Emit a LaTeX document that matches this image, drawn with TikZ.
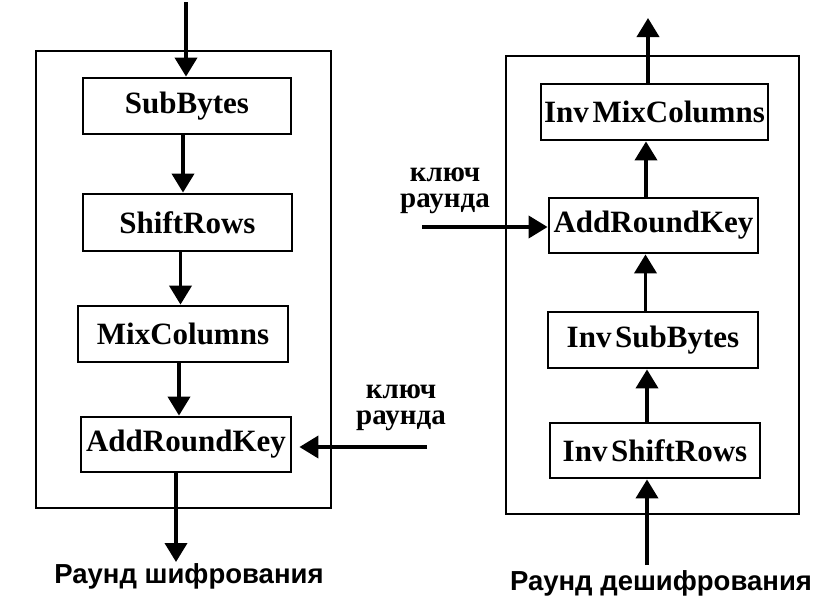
\documentclass[tikz,border=0pt]{standalone}
\usepackage{fontspec}
\setmainfont{Liberation Serif}
\setsansfont{Liberation Sans}
\usetikzlibrary{arrows.meta}
\begin{document}
\begin{tikzpicture}[x=1pt,y=-1pt,
  proc/.style={draw, line width=2.8pt, inner sep=0pt, font=\fontsize{31}{33}\selectfont\bfseries},
  frame/.style={draw, line width=2.8pt},
  flow/.style={line width=3.8pt, -{Triangle[width=22pt,length=19pt]}},
  keylbl/.style={align=center, inner sep=0pt, font=\fontsize{29}{26}\selectfont\bfseries},
  caption/.style={inner sep=0pt, font=\fontsize{27.5}{30}\selectfont\sffamily\bfseries}]
\useasboundingbox (0,0) rectangle (821,603);
% left: encryption round
\draw[frame] (36,51) rectangle (331,508);
\node[proc, minimum width=208pt, minimum height=56pt] (sb) at (187,106) {SubBytes};
\node[proc, minimum width=209pt, minimum height=57pt] (sr) at (187.5,222.5) {ShiftRows};
\node[proc, minimum width=210pt, minimum height=56pt] (mc) at (183,334) {MixColumns};
\node[proc, minimum width=210pt, minimum height=55pt] (ark) at (186,444.5) {AddRoundKey};
\coordinate (in1) at (186,2);
\coordinate (out1) at (176,562);
\coordinate (k1) at (427,447);
\draw[flow] (in1) -- (in1 |- sb.north);
\draw[flow] ([xshift=-4pt]sb.south) -- ([xshift=-4pt]sb.south |- sr.north);
\draw[flow] ([xshift=-7pt]sr.south) -- ([xshift=-7pt]sr.south |- mc.north);
\draw[flow] ([xshift=-4pt]mc.south) -- ([xshift=-4pt]mc.south |- ark.north);
\draw[flow] (ark.south -| out1) -- (out1);
\draw[flow, shorten >=7pt] (k1) -- (k1 -| ark.east);
\node[keylbl] (key1) at (401,408) {ключ\\раунда};
\node[caption] (cap1) at (189,576) {Раунд шифрования};
% right: decryption round
\draw[frame] (506,56) rectangle (799,514);
\node[proc, minimum width=227pt, minimum height=56pt] (imc) at (654.5,112) {Inv\hspace{0.12em}MixColumns};
\node[proc, minimum width=209pt, minimum height=55pt] (ark2) at (653.5,225.5) {AddRoundKey};
\node[proc, minimum width=210pt, minimum height=56pt] (isb) at (653,340) {Inv\hspace{0.12em}SubBytes};
\node[proc, minimum width=210pt, minimum height=55pt] (isr) at (655,450.5) {Inv\hspace{0.12em}ShiftRows};
\coordinate (in2) at (647,565);
\coordinate (out2) at (648,18);
\coordinate (k2) at (422,227);
\draw[flow] (in2) -- (in2 |- isr.south);
\draw[flow] (isr.north -| in2) -- (isb.south -| in2);
\draw[flow] ([xshift=-7.5pt]isb.north) -- ([xshift=-7.5pt]isb.north |- ark2.south);
\draw[flow] ([xshift=-7.5pt]ark2.north) -- ([xshift=-7.5pt]ark2.north |- imc.south);
\draw[flow] (imc.north -| out2) -- (out2);
\draw[flow] (k2) -- (k2 -| ark2.west);
\node[keylbl] (key2) at (445,191) {ключ\\раунда};
\node[caption] (cap2) at (661,583) {Раунд дешифрования};
\end{tikzpicture}
\end{document}
